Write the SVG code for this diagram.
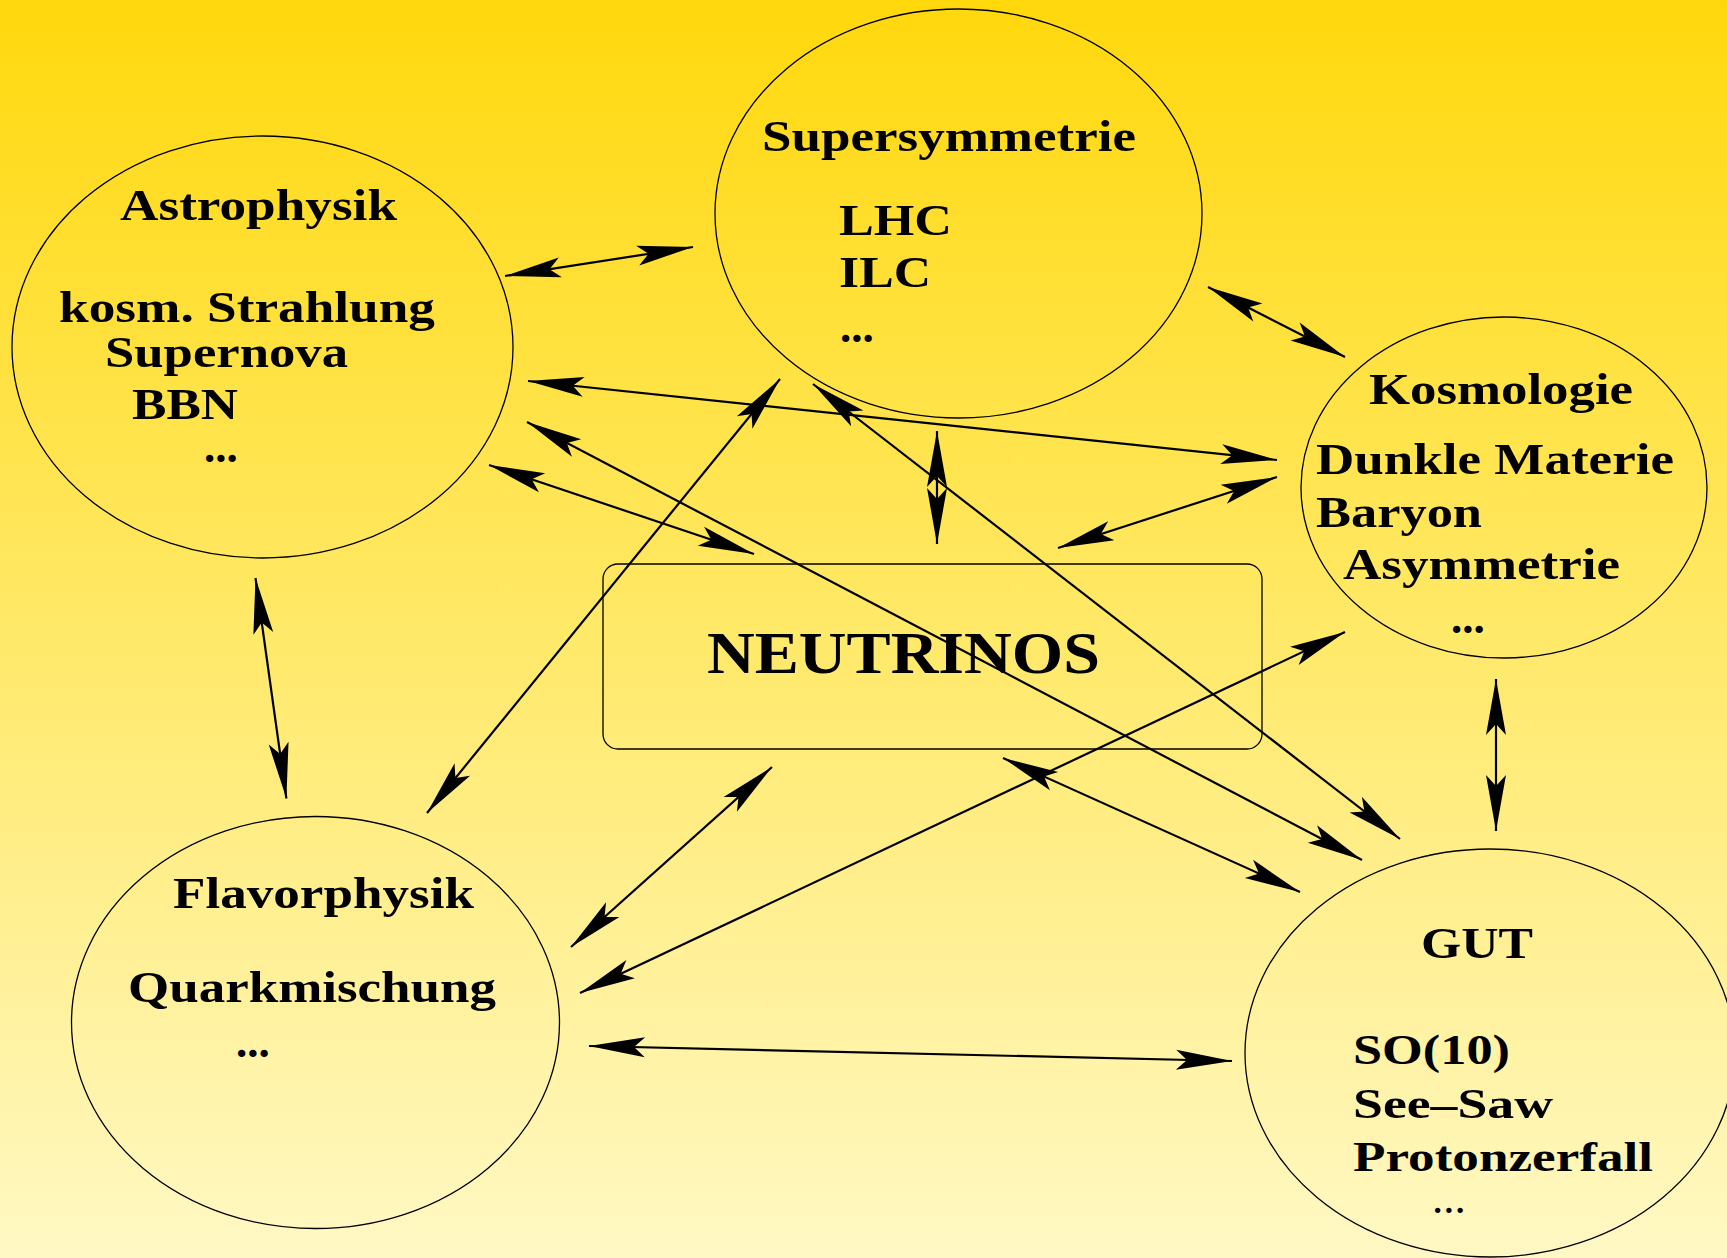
<svg xmlns="http://www.w3.org/2000/svg" width="1727" height="1258" viewBox="0 0 1727 1258">
<defs>
<linearGradient id="bg" x1="0" y1="0" x2="0" y2="1">
<stop offset="0" stop-color="#FFD80C"/>
<stop offset="0.5" stop-color="#FFE968"/>
<stop offset="1" stop-color="#FFF8C4"/>
</linearGradient>
<marker id="ah" markerUnits="userSpaceOnUse" markerWidth="62" markerHeight="26" viewBox="-59 -13 62 26" refX="0" refY="0" orient="auto-start-reverse">
<path d="M0,0 L-56,-10 L-45,0 L-56,10 Z" fill="#000"/>
</marker>
<style>
.node{fill:none;stroke:#000;stroke-width:1.3}
.t{font-family:"Liberation Serif","Times New Roman",serif;font-weight:bold;font-size:45px;fill:#000}
.s{font-family:"Liberation Serif","Times New Roman",serif;font-weight:bold;font-size:43px;fill:#000}
.d{font-family:"Liberation Serif","Times New Roman",serif;font-weight:bold;font-size:45px;fill:#000}
.dl{font-family:"Liberation Serif","Times New Roman",serif;font-size:45px;fill:#000}
.big{font-family:"Liberation Serif","Times New Roman",serif;font-weight:bold;font-size:60px;fill:#000}
.c{stroke:#000;stroke-width:2.2;fill:none;marker-start:url(#ah);marker-end:url(#ah)}
</style>
</defs>
<rect x="0" y="0" width="1727" height="1258" fill="url(#bg)"/>

<g id="astrophysik">
<ellipse class="node" cx="262.5" cy="347" rx="250.5" ry="211"/>
<text class="t" x="120" y="220" textLength="277" lengthAdjust="spacingAndGlyphs">Astrophysik</text>
<text class="t" x="59" y="322" textLength="376" lengthAdjust="spacingAndGlyphs">kosm. Strahlung</text>
<text class="t" x="105" y="367" textLength="243" lengthAdjust="spacingAndGlyphs">Supernova</text>
<text class="t" x="132" y="419" textLength="106" lengthAdjust="spacingAndGlyphs">BBN</text>
<text class="d" x="204" y="462">...</text>
</g>

<g id="supersymmetrie">
<ellipse class="node" cx="958.5" cy="213.5" rx="243.5" ry="204.5"/>
<text class="t" x="762" y="151" textLength="374" lengthAdjust="spacingAndGlyphs">Supersymmetrie</text>
<text class="t" x="839" y="235" textLength="113" lengthAdjust="spacingAndGlyphs">LHC</text>
<text class="t" x="839" y="287" textLength="92" lengthAdjust="spacingAndGlyphs">ILC</text>
<text class="d" x="840" y="342">...</text>
</g>

<g id="kosmologie">
<ellipse class="node" cx="1504" cy="487.5" rx="203" ry="170.5"/>
<text class="t" x="1369" y="404" textLength="264" lengthAdjust="spacingAndGlyphs">Kosmologie</text>
<text class="t" x="1316" y="474" textLength="358" lengthAdjust="spacingAndGlyphs">Dunkle Materie</text>
<text class="t" x="1316" y="527" textLength="166" lengthAdjust="spacingAndGlyphs">Baryon</text>
<text class="t" x="1343" y="579" textLength="277" lengthAdjust="spacingAndGlyphs">Asymmetrie</text>
<text class="d" x="1451" y="633">...</text>
</g>

<g id="neutrinos">
<rect class="node" x="603" y="564" width="659" height="185" rx="15" ry="15"/>
<text class="big" x="707" y="673" textLength="393" lengthAdjust="spacingAndGlyphs">NEUTRINOS</text>
</g>

<g id="flavorphysik">
<ellipse class="node" cx="315.5" cy="1022.5" rx="244" ry="206"/>
<text class="t" x="173" y="908" textLength="301" lengthAdjust="spacingAndGlyphs">Flavorphysik</text>
<text class="t" x="128" y="1002" textLength="368" lengthAdjust="spacingAndGlyphs">Quarkmischung</text>
<text class="d" x="236" y="1057">...</text>
</g>

<g id="gut">
<ellipse class="node" cx="1490" cy="1053" rx="245" ry="204"/>
<text class="t" x="1421" y="958" textLength="112" lengthAdjust="spacingAndGlyphs">GUT</text>
<text class="s" x="1353" y="1064" textLength="157" lengthAdjust="spacingAndGlyphs">SO(10)</text>
<text class="s" x="1353" y="1118" textLength="200" lengthAdjust="spacingAndGlyphs">See–Saw</text>
<text class="s" x="1353" y="1171" textLength="300" lengthAdjust="spacingAndGlyphs">Protonzerfall</text>
<text class="dl" x="1432" y="1213">...</text>
</g>

<g id="connectors">
<line class="c" x1="505" y1="276" x2="693" y2="247"/>
<line class="c" x1="1208" y1="287" x2="1345" y2="357"/>
<line class="c" x1="528" y1="381" x2="1277" y2="460"/>
<line class="c" x1="527" y1="422" x2="1362" y2="860"/>
<line class="c" x1="489" y1="465" x2="754" y2="554"/>
<line class="c" x1="937" y1="431" x2="937" y2="544"/>
<line class="c" x1="780" y1="379" x2="427" y2="813"/>
<line class="c" x1="813" y1="384" x2="1400" y2="839"/>
<line class="c" x1="1277" y1="477" x2="1058" y2="548"/>
<line class="c" x1="255.5" y1="578" x2="286.4" y2="798.5"/>
<line class="c" x1="1496" y1="679" x2="1496" y2="831"/>
<line class="c" x1="1345" y1="632" x2="580" y2="993"/>
<line class="c" x1="772" y1="767" x2="571" y2="947"/>
<line class="c" x1="1003" y1="758" x2="1300" y2="892"/>
<line class="c" x1="589" y1="1046" x2="1232" y2="1061"/>
</g>
</svg>
